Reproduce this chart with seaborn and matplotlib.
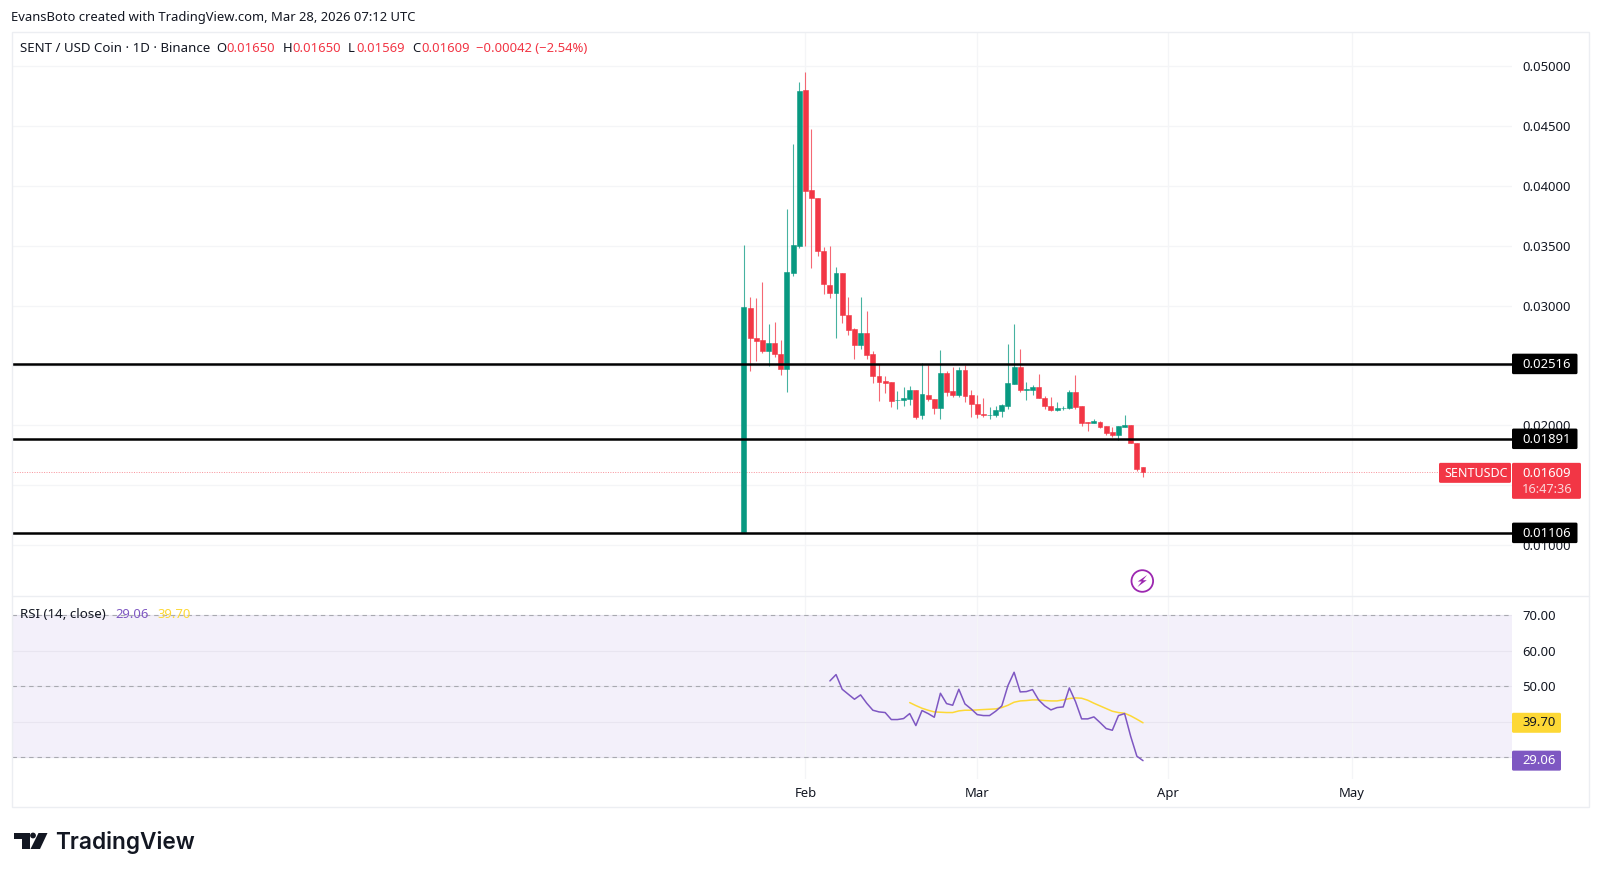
import matplotlib
matplotlib.use("Agg")
import pandas as pd
import seaborn as sns
import matplotlib.pyplot as plt
from matplotlib.patches import Rectangle, Polygon, Circle, FancyBboxPatch
from matplotlib.transforms import IdentityTransform

# daily candles, Jan 22 to Mar 28 2026
start_date = "2026-01-22"
opens = [.01110, .02983, .02727, .02713, .02622, .02688, .02599, .02471, .03273, .03500,
         .04800, .03965, .03896, .03459, .03172, .03108, .03275, .02922, .02802, .02672,
         .02772, .02594, .02410, .02371, .02360, .02210, .02213, .02224, .02296, .02085,
         .02257, .02221, .02149, .02441, .02288, .02254, .02460, .02252, .02182, .02099,
         .02085, .02085, .02124, .02165, .02349, .02491, .02299, .02299, .02321, .02232,
         .02163, .02129, .02143, .02146, .02280, .02163, .02029, .02021, .02032, .01993,
         .01943, .01921, .01987, .02004, .01854, .01650]
highs = [.03504, .03075, .03061, .03195, .02847, .02864, .02711, .03807, .04349, .04866,
         .04950, .04472, .03896, .03490, .03498, .03320, .03275, .03072, .02814, .03072,
         .02955, .02619, .02510, .02413, .02360, .02288, .02321, .02330, .02296, .02519,
         .02502, .02221, .02630, .02457, .02491, .02491, .02502, .02296, .02252, .02232,
         .02151, .02163, .02182, .02677, .02847, .02636, .02363, .02341, .02430, .02246,
         .02238, .02196, .02163, .02296, .02419, .02163, .02032, .02057, .02037, .01996,
         .01985, .01998, .02088, .02008, .01854, .01650]
lows = [.01106, .02457, .02538, .02608, .02494, .02574, .02424, .02282, .03250, .03478,
        .03500, .03317, .03417, .03097, .03061, .02727, .02855, .02758, .02558, .02641,
        .02558, .02357, .02204, .02268, .02157, .02135, .02160, .02174, .02051, .02057,
        .02207, .02096, .02051, .02249, .02241, .02241, .02196, .02074, .02065, .02074,
        .02057, .02068, .02074, .02140, .02346, .02282, .02216, .02254, .02229, .02140,
        .02118, .02118, .02129, .02140, .02140, .01999, .01957, .02018, .01982, .01921,
        .01904, .01879, .01985, .01857, .01623, .01569]
closes = [.02992, .02727, .02708, .02622, .02688, .02594, .02471, .03281, .03503, .04791,
          .03959, .03896, .03456, .03178, .03108, .03270, .02925, .02797, .02672, .02772,
          .02591, .02413, .02366, .02357, .02207, .02216, .02227, .02296, .02071, .02260,
          .02218, .02146, .02441, .02282, .02252, .02460, .02246, .02179, .02099, .02085,
          .02090, .02127, .02171, .02355, .02491, .02293, .02302, .02321, .02229, .02160,
          .02127, .02143, .02149, .02280, .02157, .02021, .02021, .02037, .01987, .01937,
          .01918, .01993, .02004, .01857, .01640, .01609]

# RSI starts on candle 14, its moving average on candle 27
rsi_values = [51.47, 53.25, 49.13, 47.72, 46.32, 47.54, 45.2, 43.23, 42.76, 42.58, 40.61, 40.61,
              40.89, 42.29, 38.92, 43.14, 42.29, 41.26, 48.0, 45.1, 44.63, 49.13, 45.0, 43.6,
              42.0, 41.73, 41.73, 42.95, 44.45, 50.16, 53.9, 48.38, 48.47, 49.03, 46.13, 44.45,
              43.32, 43.98, 44.17, 49.5, 45.66, 40.8, 40.8, 41.36, 39.77, 38.08, 37.6, 41.73,
              42.29, 35.84, 30.31, 29.06]
rsi_ma_values = [45.38, 44.54, 43.79, 43.23, 42.76, 42.67, 42.58, 42.58, 43.04, 43.23, 43.23,
                 43.32, 43.42, 43.51, 43.6, 43.98, 44.63, 45.48, 45.85, 45.95, 46.13, 46.13,
                 45.95, 45.85, 45.85, 46.13, 46.5, 46.7, 46.6, 46.04, 45.2, 44.45, 43.7, 42.95,
                 42.58, 42.39, 41.64, 40.7, 39.7]

levels = [0.02516, 0.01891, 0.01106]
level_labels = ["0.02516", "0.01891", "0.01106"]
price_ticks = [0.05, 0.045, 0.04, 0.035, 0.03, 0.025, 0.02, 0.015, 0.01]
# 0.025 and 0.015 sit behind the tags on the scale
price_tick_labels = ["0.05000", "0.04500", "0.04000", "0.03500", "0.03000", "", "0.02000", "", "0.01000"]
rsi_ticks = [30, 40, 50, 60, 70]
rsi_tick_labels = ["", "", "50.00", "60.00", "70.00"]
month_ticks = ["2026-02-01", "2026-03-01", "2026-04-01", "2026-05-01"]
month_labels = ["Feb", "Mar", "Apr", "May"]

GREEN = "#089981"
RED = "#f23645"
PURPLE = "#7e57c2"
YELLOW = "#fdd835"
GRID = "#f4f5f7"
TEXT = "#131722"
W, H = 1600, 876

sns.set_theme(style="white")
plt.rcParams["font.family"] = ["Noto Sans", "DejaVu Sans"]

df = pd.DataFrame({"open": opens, "high": highs, "low": lows, "close": closes})
df["date"] = pd.date_range(start_date, periods=len(df))
df["rsi"] = [None] * (len(df) - len(rsi_values)) + rsi_values
df["rsi_ma"] = [None] * (len(df) - len(rsi_ma_values)) + rsi_ma_values
df["rsi"] = df["rsi"].astype(float)
df["rsi_ma"] = df["rsi_ma"].astype(float)
df["color"] = [GREEN if c >= o else RED for o, c in zip(df["open"], df["close"])]

fig = plt.figure(figsize=(16, 8.76), dpi=100, facecolor="white")


def px_axes(x0, y0, x1, y1):
    return fig.add_axes([x0 / W, 1 - y1 / H, (x1 - x0) / W, (y1 - y0) / H])


def px_text(x, y, s, color=TEXT, size=9.2, **kw):
    kw.setdefault("va", "center")
    return fig.text(x / W, 1 - y / H, s, color=color, fontsize=size, zorder=20, **kw)


def px_box(x0, y0, x1, y1, color, rounding=1.5):
    box = FancyBboxPatch((x0 + rounding, H - y1 + rounding), x1 - x0 - 2 * rounding, y1 - y0 - 2 * rounding,
                         boxstyle=f"round,pad={rounding}", fc=color, ec="none",
                         transform=IdentityTransform(), zorder=15)
    fig.add_artist(box)


def data_y(ax, value):
    # pixel row from the top of the image
    return H - ax.transData.transform((0, value))[1]


ax = px_axes(11.5, 32, 1512, 596)
rsi_ax = px_axes(11.5, 596, 1512, 779)

xmin = pd.Timestamp("2026-02-01") - pd.Timedelta(days=129.3)
xmax = pd.Timestamp("2026-02-01") + pd.Timedelta(days=115.1)

# price pane
ax.vlines(df["date"], df["low"], df["high"], colors=df["color"], lw=0.8, alpha=0.75, zorder=3)
ax.bar(df["date"], (df["close"] - df["open"]).abs(), bottom=df[["open", "close"]].min(axis=1),
       width=0.8, color=df["color"], edgecolor=df["color"], linewidth=0.4, zorder=4)
for level in levels:
    ax.axhline(level, color="black", lw=1.8, zorder=5)
ax.axhline(closes[-1], color=RED, lw=0.7, ls=(0, (1, 1.5)), alpha=0.55, zorder=2)
ax.set_xlim(xmin, xmax)
ax.set_ylim(0.00577, 0.05284)
ax.set_yticks(price_ticks)
ax.set_yticklabels(price_tick_labels)
ax.set_xticks(pd.to_datetime(month_ticks))
ax.set_xticklabels([])

# rsi pane
rsi_ax.axhspan(30, 70, color="#f3f0fa", lw=0, zorder=0)
sns.lineplot(data=df, x="date", y="rsi", color=PURPLE, lw=1.1, ax=rsi_ax, zorder=4)
sns.lineplot(data=df, x="date", y="rsi_ma", color=YELLOW, lw=1.1, ax=rsi_ax, zorder=3)
for val in [30, 50, 70]:
    rsi_ax.axhline(val, color="#a8a9b0", lw=0.8, ls=(0, (4, 3.5)), zorder=2)
rsi_ax.set_xlim(xmin, xmax)
rsi_ax.set_ylim(23.9, 75.34)
rsi_ax.set_yticks(rsi_ticks)
rsi_ax.set_yticklabels(rsi_tick_labels)
rsi_ax.set_xticks(pd.to_datetime(month_ticks))
rsi_ax.set_xticklabels(month_labels)
rsi_ax.set_xlabel("")
rsi_ax.set_ylabel("")

for a in [ax, rsi_ax]:
    a.set_facecolor("none")
    a.grid(True, color=GRID, lw=0.9, zorder=0)
    a.set_axisbelow(True)
    a.yaxis.tick_right()
    a.tick_params(axis="y", length=0, pad=7.5, labelsize=9.4, labelcolor=TEXT)
    a.tick_params(axis="x", length=0, pad=6, labelsize=9.4, labelcolor=TEXT)
    for side in a.spines:
        a.spines[side].set_visible(False)
rsi_ax.grid(True, axis="y", color="#e8e5f0", lw=0.8, zorder=1)

# outer frame and pane divider
fig.add_artist(Rectangle((11.5, H - 807), 1577.5, 775, fc="none", ec="#eceef2", lw=1.0,
                         transform=IdentityTransform(), zorder=1))
fig.add_artist(plt.Line2D([11.5, 1589], [H - 596, H - 596], color="#eceef2", lw=1.0,
                          transform=IdentityTransform(), zorder=1))

# header
px_text(11, 17.5, "EvansBoto created with TradingView.com, Mar 28, 2026 07:12 UTC", size=9.37)
px_text(20.5, 48.5, "SENT / USD Coin · 1D · Binance", size=9.55)
for x, s, col in [(216.5, "O", TEXT), (226, "0.01650", RED), (283, "H", TEXT), (292, "0.01650", RED),
                  (348, "L", TEXT), (356, "0.01569", RED), (412, "C", TEXT), (421, "0.01609", RED),
                  (476, "−0.00042 (−2.54%)", RED)]:
    px_text(x, 48.5, s, color=col, size=9.4)
px_text(20.5, 614, "RSI (14, close)", size=9.6)
px_text(115, 614, "29.06", color=PURPLE, size=9.4)
px_text(157, 614, "39.70", color=YELLOW, size=9.4)

# level tags on the price scale
fig.canvas.draw()
for level, label in zip(levels, level_labels):
    yp = data_y(ax, level)
    px_box(1512, yp - 10, 1577.5, yp + 10.5, "black")
    px_text(1522, yp + 1, label, color="white", size=9.4, fontweight="semibold")

yp = data_y(ax, closes[-1])
px_box(1439, yp - 9.5, 1511, yp + 10.5, RED)
px_text(1444, yp + 1, "SENTUSDC", color="white", size=9)
px_box(1512, yp - 9.5, 1581, yp + 26.5, RED)
px_text(1522, yp + 1, f"{closes[-1]:.5f}", color="white", size=9.4, fontweight="semibold")
px_text(1522, yp + 17.5, "16:47:36", color="#fbd5d8", size=9.2)

yp = data_y(rsi_ax, rsi_ma_values[-1])
px_box(1512, yp - 10, 1561, yp + 10, YELLOW)
px_text(1522, yp, f"{rsi_ma_values[-1]:.2f}", size=9.4)
yp = data_y(rsi_ax, rsi_values[-1])
px_box(1512, yp - 10, 1561, yp + 10, PURPLE)
px_text(1522, yp, f"{rsi_values[-1]:.2f}", color="white", size=9.4, fontweight="semibold")

# lightning icon below the last candle
cx, cy = 1142.3, H - 581
fig.add_artist(Circle((cx, cy), 10.8, fc="white", ec="#9c27b0", lw=1.3, transform=IdentityTransform(), zorder=12))
bolt = [(4.8, 6), (-4.5, -0.5), (-0.6, -0.5), (-4.8, -6), (4.5, 0.8), (0.6, 0.8)]
fig.add_artist(Polygon([(cx + dx, cy + dy) for dx, dy in bolt], fc="#9c27b0", ec="none",
                       transform=IdentityTransform(), zorder=13))

# tradingview mark
mark = "#131722"
fig.add_artist(Polygon([(13.5, H - 833), (29.5, H - 833), (29.5, H - 849), (21.5, H - 849),
                        (21.5, H - 838.5), (13.5, H - 838.5)], fc=mark, ec="none",
                       transform=IdentityTransform(), zorder=13))
fig.add_artist(Circle((33, H - 835.5), 2.9, fc=mark, ec="none", transform=IdentityTransform(), zorder=13))
fig.add_artist(Polygon([(38.5, H - 833), (47.5, H - 833), (40, H - 849), (30.5, H - 849)], fc=mark, ec="none",
                       transform=IdentityTransform(), zorder=13))
px_text(55, 849.5, "TradingView", size=16.3, family="Inter", fontweight="semibold", va="baseline")

fig.savefig("out.png", dpi=100, facecolor="white")
